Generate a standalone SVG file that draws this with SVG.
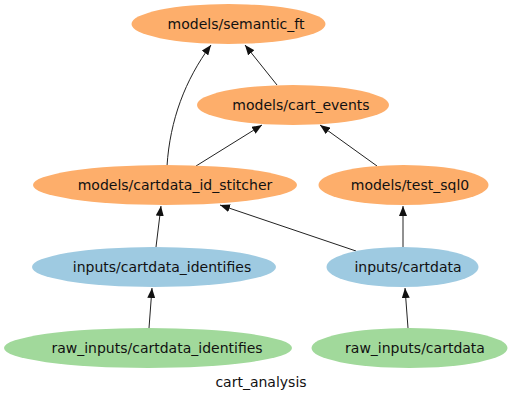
<svg xmlns="http://www.w3.org/2000/svg" width="512" height="401" viewBox="0 0 512 401">
<defs>
<style>
text{font-family:"DejaVu Sans","Liberation Sans",sans-serif;font-size:14px;fill:#111;text-anchor:middle;dominant-baseline:central}
.m{fill:#fdae6b}
.i{fill:#9ecae1}
.r{fill:#a1d99b}
.e{fill:none;stroke:#222;stroke-width:1;marker-end:url(#a)}
</style>
<marker id="a" markerWidth="10" markerHeight="8" refX="10" refY="4" orient="auto" markerUnits="userSpaceOnUse">
<path d="M0,0 L10,4 L0,8 Z" fill="#111"/>
</marker>
</defs>
<rect width="512" height="401" fill="#fff"/>
<g id="connectors">
<path class="e" d="M167,166 C170,120 185,80 211,45"/>
<path class="e" d="M277,85 L245,45"/>
<path class="e" d="M196,166 L262,125"/>
<path class="e" d="M377,166 L320,125"/>
<path class="e" d="M156,247 L161,206"/>
<path class="e" d="M356,251 L220,205"/>
<path class="e" d="M403,247 L403,206"/>
<path class="e" d="M149,328 L152,288"/>
<path class="e" d="M408,328 L405,288"/>
</g>
<g id="semantic_ft"><ellipse class="m" cx="228.5" cy="24" rx="97" ry="20"/><text x="236" y="24">models/semantic_ft</text></g>
<g id="cart_events"><ellipse class="m" cx="293" cy="105" rx="96" ry="20"/><text x="301" y="105">models/cart_events</text></g>
<g id="cartdata_id_stitcher"><ellipse class="m" cx="165" cy="185" rx="132" ry="20"/><text x="175" y="185">models/cartdata_id_stitcher</text></g>
<g id="test_sql0"><ellipse class="m" cx="403.5" cy="185" rx="85" ry="20"/><text x="410" y="185">models/test_sql0</text></g>
<g id="inputs_cartdata_identifies"><ellipse class="i" cx="154" cy="267" rx="122" ry="20"/><text x="162" y="267">inputs/cartdata_identifies</text></g>
<g id="inputs_cartdata"><ellipse class="i" cx="402.5" cy="267" rx="76" ry="20"/><text x="408" y="267">inputs/cartdata</text></g>
<g id="raw_inputs_cartdata_identifies"><ellipse class="r" cx="148" cy="348" rx="144" ry="20"/><text x="157" y="348">raw_inputs/cartdata_identifies</text></g>
<g id="raw_inputs_cartdata"><ellipse class="r" cx="409.5" cy="348" rx="98" ry="20"/><text x="415" y="348">raw_inputs/cartdata</text></g>
<text x="261" y="382">cart_analysis</text>
</svg>
